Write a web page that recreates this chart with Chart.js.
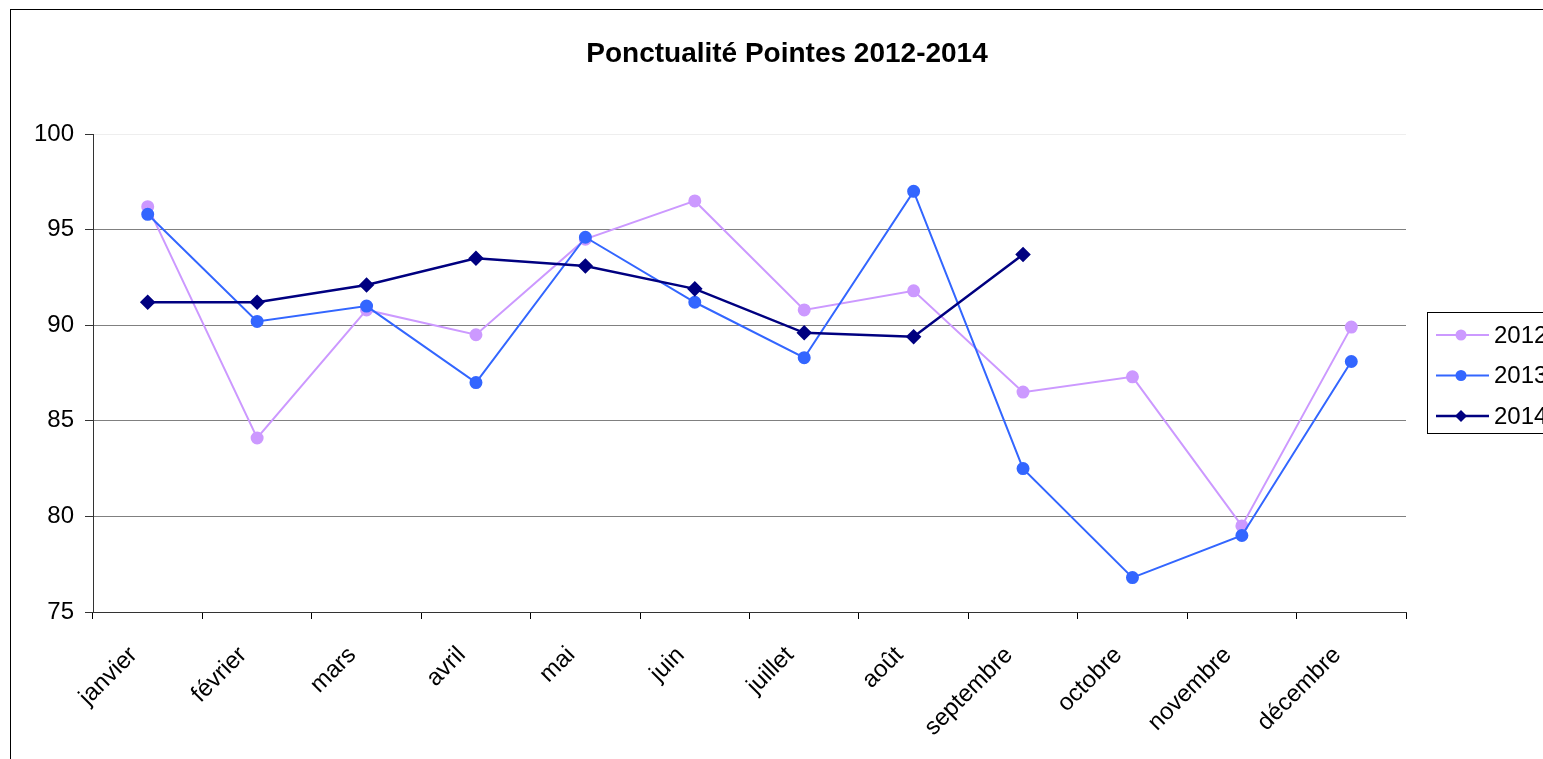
<!DOCTYPE html>
<html lang="fr">
<head>
<meta charset="UTF-8">
<script src="https://cdn.jsdelivr.net/npm/chart.js"></script>
<title>Ponctualité Pointes 2012-2014</title>
<style>
html, body { margin: 0; padding: 0; overflow: hidden; background: #fff; }
#cadre { position: absolute; left: 0; top: 0; width: 1600px; height: 759px; }
</style>
</head>
<body>
<div id="cadre"><canvas id="graphique"></canvas></div>
<script>
const mois = ['janvier', 'février', 'mars', 'avril', 'mai', 'juin', 'juillet', 'août', 'septembre', 'octobre', 'novembre', 'décembre'];
const annees = ['2012', '2013', '2014'];
const valeurs2012 = [96.2, 84.1, 90.8, 89.5, 94.5, 96.5, 90.8, 91.8, 86.5, 87.3, 79.5, 89.9];
const valeurs2013 = [95.8, 90.2, 91.0, 87.0, 94.6, 91.2, 88.3, 97.0, 82.5, 76.8, 79.0, 88.1];
const valeurs2014 = [91.2, 91.2, 92.1, 93.5, 93.1, 91.9, 89.6, 89.4, 93.7, null, null, null];
const ticksY = [75, 80, 85, 90, 95, 100];
const titre = 'Ponctualité Pointes 2012-2014';

const police = '"Liberation Sans", Arial, sans-serif';

// cadre, titre et légende dessinés à la main
const decor = {
    id: 'decor',
    beforeDraw(chart) {
        const ctx = chart.ctx;
        ctx.save();
        ctx.fillStyle = '#fff';
        ctx.fillRect(0, 0, chart.width, chart.height);
        ctx.strokeStyle = '#000';
        ctx.lineWidth = 1;
        ctx.strokeRect(10.5, 9.5, 1555, 800);
        ctx.fillStyle = '#000';
        ctx.font = 'bold 28px ' + police;
        ctx.textAlign = 'center';
        ctx.textBaseline = 'middle';
        ctx.fillText(titre, 787, 54);
        ctx.restore();
    },
    afterDraw(chart) {
        const ctx = chart.ctx;
        ctx.save();
        ctx.strokeStyle = '#000';
        ctx.lineWidth = 1;
        ctx.strokeRect(1427.5, 312.5, 130, 121);
        ctx.font = '24px ' + police;
        ctx.textBaseline = 'middle';
        ctx.textAlign = 'left';
        chart.data.datasets.forEach(function (ds, i) {
            const y = 335 + i * 40.5;
            ctx.strokeStyle = ds.borderColor;
            ctx.lineWidth = ds.borderWidth;
            ctx.beginPath();
            ctx.moveTo(1436, y);
            ctx.lineTo(1489, y);
            ctx.stroke();
            ctx.fillStyle = ds.pointBackgroundColor;
            ctx.beginPath();
            if (ds.pointStyle === 'rectRot') {
                ctx.moveTo(1461, y - 6);
                ctx.lineTo(1467, y);
                ctx.lineTo(1461, y + 6);
                ctx.lineTo(1455, y);
                ctx.closePath();
            } else {
                ctx.arc(1461, y, 5.5, 0, Math.PI * 2);
            }
            ctx.fill();
            ctx.fillStyle = '#000';
            ctx.fillText(ds.label, 1494, y + 1);
        });
        ctx.restore();
    }
};

const dados = {
    labels: mois,
    datasets: [
        {
            label: annees[0],
            data: valeurs2012,
            borderColor: '#CC99FF',
            pointBackgroundColor: '#CC99FF',
            pointBorderColor: '#CC99FF',
            borderWidth: 2,
            pointStyle: 'circle',
            pointRadius: 5.5,
            order: 2
        },
        {
            label: annees[1],
            data: valeurs2013,
            borderColor: '#3366FF',
            pointBackgroundColor: '#3366FF',
            pointBorderColor: '#3366FF',
            borderWidth: 2,
            pointStyle: 'circle',
            pointRadius: 5.5,
            order: 1
        },
        {
            label: annees[2],
            data: valeurs2014,
            borderColor: '#000080',
            pointBackgroundColor: '#000080',
            pointBorderColor: '#000080',
            borderWidth: 2.5,
            pointStyle: 'rectRot',
            pointRadius: 6,
            order: 0
        }
    ]
};

const config = {
    type: 'line',
    data: dados,
    plugins: [decor],
    options: {
        responsive: true,
        maintainAspectRatio: false,
        animation: false,
        spanGaps: false,
        layout: { padding: { top: 134, right: 194, bottom: 0, left: 0 } },
        elements: { line: { tension: 0 }, point: { borderWidth: 0 } },
        plugins: {
            legend: { display: false },
            title: { display: false },
            tooltip: { enabled: false }
        },
        scales: {
            x: {
                offset: true,
                grid: {
                    offset: true,
                    drawOnChartArea: false,
                    drawTicks: true,
                    tickLength: 7,
                    tickColor: '#000'
                },
                border: { color: '#333', width: 1 },
                ticks: {
                    color: '#000',
                    font: { family: police, size: 24 },
                    minRotation: 45,
                    maxRotation: 45,
                    autoSkip: false,
                    padding: 8,
                    // quelques espaces pour décaler l'étiquette vers le bas-gauche comme dans Excel
                    callback: function (val, i) { return mois[i] + '   '; }
                },
                afterFit(scale) { scale.height = 147; }
            },
            y: {
                min: 75,
                max: 100,
                afterBuildTicks(scale) { scale.ticks = ticksY.map(v => ({ value: v })); },
                grid: {
                    color: ctx => (ctx.tick && ctx.tick.value === 100 ? '#eeeeee' : '#808080'),
                    tickColor: '#333',
                    tickLength: 8,
                    lineWidth: 1
                },
                border: { color: '#333', width: 1 },
                ticks: {
                    color: '#000',
                    font: { family: police, size: 24 },
                    padding: 11
                },
                afterFit(scale) { scale.width = 93; }
            }
        }
    }
};

let ctx = document.getElementById('graphique').getContext('2d');
let graphique = new Chart(ctx, config);
</script>
</body>
</html>
